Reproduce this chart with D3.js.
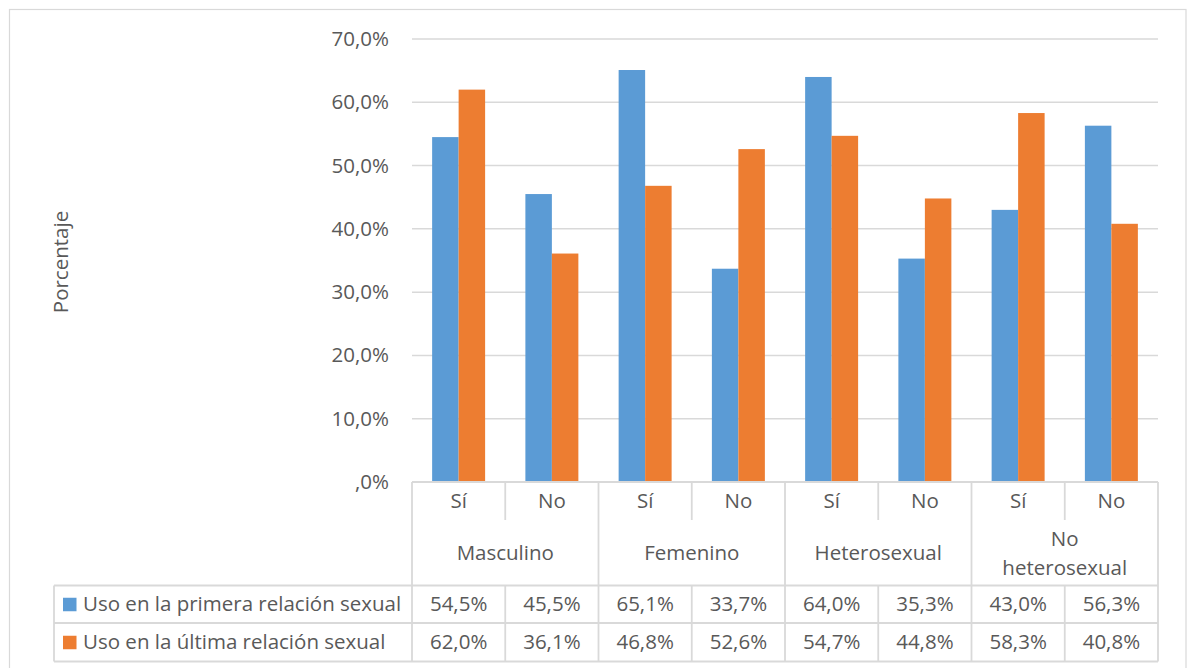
<!DOCTYPE html>
<html>
<head>
<meta charset="utf-8">
<script src="https://cdn.jsdelivr.net/npm/d3@7"></script>
<style>
  html, body { margin: 0; padding: 0; background: #fff; }
  svg { display: block; font-family: "Open Sans", "Noto Sans", sans-serif; }
</style>
</head>
<body>
<svg id="chart" width="1187" height="668"></svg>
<script>
// Uso de preservativo por sexo y orientación sexual
const categories = ["Sí", "No", "Sí", "No", "Sí", "No", "Sí", "No"];
const groups = [["Masculino"], ["Femenino"], ["Heterosexual"], ["No", "heterosexual"]];
const seriesNames = ["Uso en la primera relación sexual", "Uso en la última relación sexual"];
const primera = [54.5, 45.5, 65.1, 33.7, 64.0, 35.3, 43.0, 56.3];
const ultima = [62.0, 36.1, 46.8, 52.6, 54.7, 44.8, 58.3, 40.8];
const yTicks = [0, 10, 20, 30, 40, 50, 60, 70];
const yTickLabels = [",0%", "10,0%", "20,0%", "30,0%", "40,0%", "50,0%", "60,0%", "70,0%"];
const yTitle = "Porcentaje";

const colors = ["#5B9BD5", "#ED7D31"];
const textColor = "#595959";
const lineColor = "#D9D9D9";
const fontSize = 20.5;

const svg = d3.select("#chart");
const W = 1187, H = 668;

// frame
svg.append("rect")
  .attr("x", 9.5).attr("y", 9.5)
  .attr("width", W - 10.5).attr("height", H)
  .attr("fill", "#fff").attr("stroke", lineColor).attr("stroke-width", 1.2);

const plot = { left: 412, right: 1158, top: 39, bottom: 482 };
const rows = { cat: 520, group: 585.5, s1: 623, s2: 661.5 };
const legendLeft = 54;

const x0 = d3.scaleBand().domain(d3.range(categories.length))
  .range([plot.left, plot.right]).padding(0);
const x1 = d3.scaleBand().domain(d3.range(seriesNames.length))
  .range([0, x0.bandwidth()]).paddingInner(0).paddingOuter(0.76);
const y = d3.scaleLinear().domain([0, 70]).range([plot.bottom, plot.top]);

// gridlines
svg.append("g")
  .selectAll("line").data(yTicks.filter(d => d > 0)).join("line")
  .attr("x1", plot.left).attr("x2", plot.right)
  .attr("y1", d => y(d)).attr("y2", d => y(d))
  .attr("stroke", lineColor).attr("stroke-width", 1.5);

// y axis labels
const yAxis = d3.axisLeft(y).tickValues(yTicks)
  .tickFormat((d, i) => yTickLabels[i]).tickSize(0).tickPadding(23);
const yg = svg.append("g").attr("transform", `translate(${plot.left},0)`).call(yAxis);
yg.select(".domain").remove();
yg.selectAll("text")
  .attr("fill", textColor).style("font-size", fontSize + "px")
  .style("font-family", "'Open Sans', 'Noto Sans', sans-serif");

// y title
svg.append("text")
  .attr("transform", "translate(68,262) rotate(-90)")
  .attr("text-anchor", "middle")
  .attr("fill", textColor).style("font-size", fontSize + "px")
  .text(yTitle);

// bars
const seriesData = [primera, ultima];
seriesData.forEach((vals, s) => {
  svg.append("g").selectAll("rect").data(vals).join("rect")
    .attr("x", (d, i) => x0(i) + x1(s))
    .attr("width", x1.bandwidth())
    .attr("y", d => y(d))
    .attr("height", d => y(0) - y(d))
    .attr("fill", colors[s]);
});

// data table
const tbl = svg.append("g").attr("stroke", lineColor).attr("stroke-width", 1.8).attr("fill", "none");
// axis line
tbl.append("line").attr("x1", plot.left).attr("x2", plot.right)
  .attr("y1", plot.bottom).attr("y2", plot.bottom);
// horizontal rows
[rows.group, rows.s1, rows.s2].forEach(yy => {
  tbl.append("line").attr("x1", legendLeft).attr("x2", plot.right).attr("y1", yy).attr("y2", yy);
});
// legend column left edge
tbl.append("line").attr("x1", legendLeft).attr("x2", legendLeft)
  .attr("y1", rows.group).attr("y2", rows.s2);
// vertical dividers
d3.range(categories.length + 1).forEach(i => {
  const xx = i < categories.length ? x0(i) : plot.right;
  const groupEdge = i % 2 === 0;
  tbl.append("line").attr("x1", xx).attr("x2", xx)
    .attr("y1", plot.bottom).attr("y2", groupEdge ? rows.s2 : rows.cat);
  if (!groupEdge) {
    tbl.append("line").attr("x1", xx).attr("x2", xx)
      .attr("y1", rows.group).attr("y2", rows.s2);
  }
});

const txt = svg.append("g").attr("fill", textColor).style("font-size", fontSize + "px")
  .attr("text-anchor", "middle");

// category labels
txt.selectAll(".cat").data(categories).join("text")
  .attr("class", "cat")
  .attr("x", (d, i) => x0(i) + x0.bandwidth() / 2)
  .attr("y", 501).attr("dy", "0.35em")
  .text(d => d);

// group labels
groups.forEach((lines, g) => {
  const cx = x0(g * 2) + x0.bandwidth();
  const lh = 29;
  const startY = 553 - (lines.length - 1) * lh / 2;
  lines.forEach((l, k) => {
    txt.append("text").attr("x", cx).attr("y", startY + k * lh).attr("dy", "0.35em").text(l);
  });
});

// value rows
const fmt = v => v.toFixed(1).replace(".", ",") + "%";
const rowCenters = [(rows.group + rows.s1) / 2, (rows.s1 + rows.s2) / 2];
seriesData.forEach((vals, s) => {
  txt.selectAll(".v" + s).data(vals).join("text")
    .attr("class", "v" + s)
    .attr("x", (d, i) => x0(i) + x0.bandwidth() / 2)
    .attr("y", rowCenters[s]).attr("dy", "0.35em")
    .text(d => fmt(d));
  // legend key + series name
  svg.append("rect").attr("x", 63).attr("y", rowCenters[s] - 6.5)
    .attr("width", 13.5).attr("height", 13.5).attr("fill", colors[s]);
  svg.append("text").attr("x", 83).attr("y", rowCenters[s]).attr("dy", "0.35em")
    .attr("fill", textColor).style("font-size", fontSize + "px")
    .text(seriesNames[s]);
});
</script>
</body>
</html>
